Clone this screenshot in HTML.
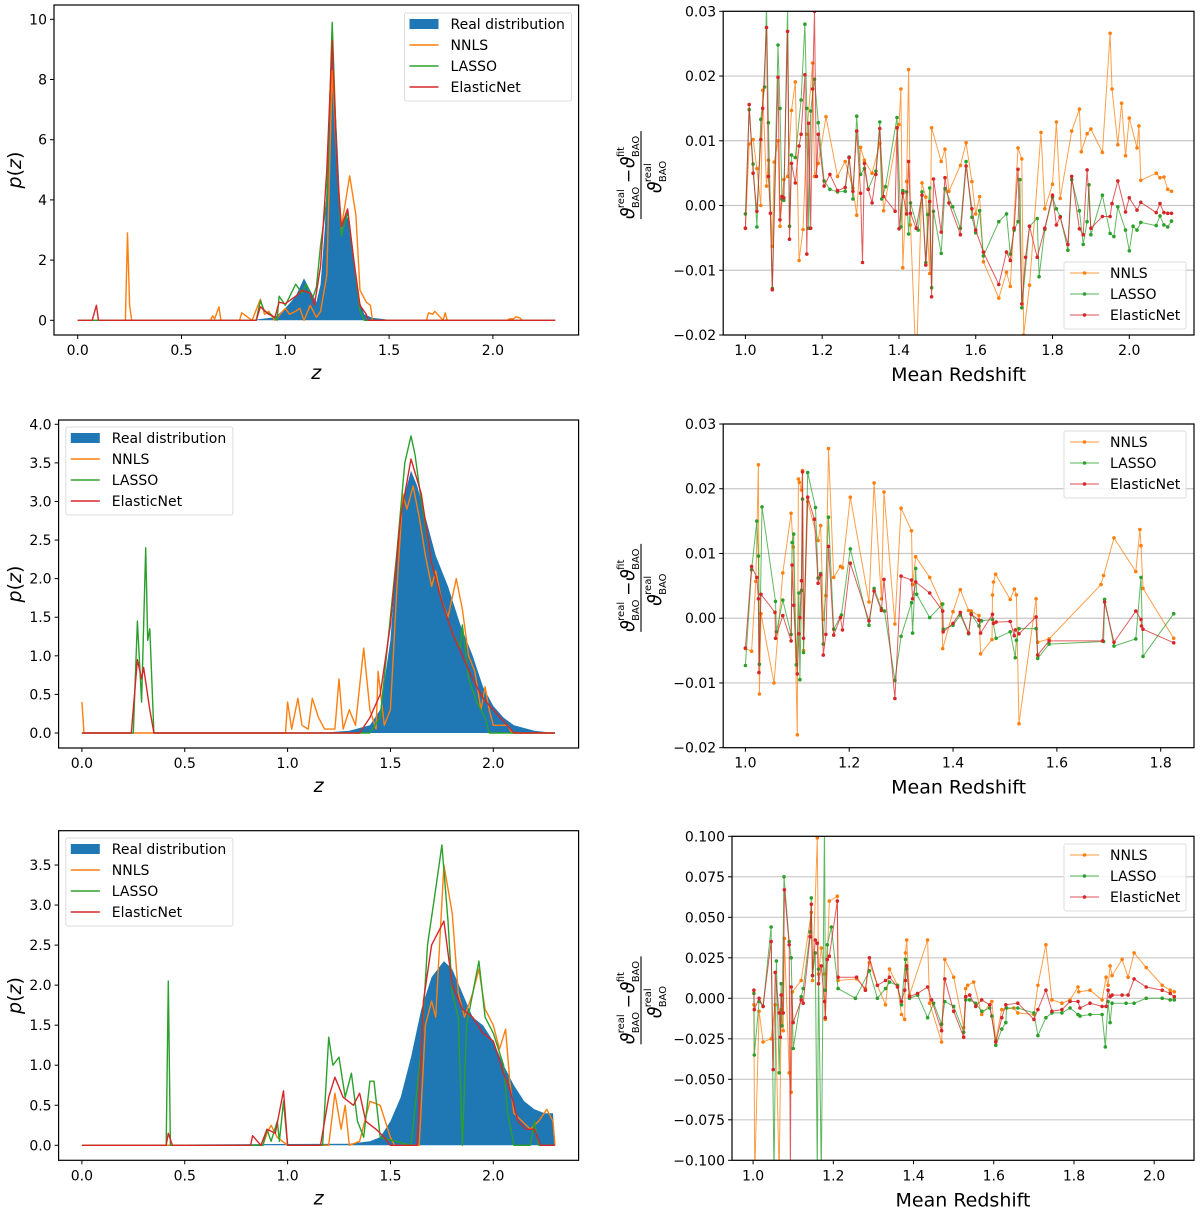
<!DOCTYPE html>
<html><head><meta charset="utf-8"><style>
html,body{margin:0;padding:0;background:#fff;}
svg{display:block;font-family:"DejaVu Sans","Liberation Sans",sans-serif;}
</style></head><body>
<svg id="fig" width="1200" height="1210" viewBox="0 0 1200 1210" xmlns="http://www.w3.org/2000/svg"></svg>
<script>
// ===== Data: p(z) panels =====
const realA=[[0,0],[0.8,0],[0.85,0.02],[0.95,0.1],[1.0,0.4],[1.05,0.8],[1.09,1.4],[1.12,1.0],[1.15,0.6],[1.17,1.2],[1.19,3],[1.21,6],[1.226,9.2],[1.25,6],[1.27,3],[1.29,3.5],[1.31,3.3],[1.33,2],[1.35,0.8],[1.38,0.2],[1.42,0.08],[1.5,0.02],[1.6,0],[2.3,0]];
const nnlsA=[[0,0],[0.23,0],[0.24,2.9],[0.25,0.5],[0.26,0],[0.64,0],[0.65,0.15],[0.66,0.05],[0.68,0.45],[0.69,0],[0.78,0],[0.79,0.25],[0.82,0.1],[0.84,0],[0.88,0.7],[0.9,0.2],[0.92,0.3],[0.95,0],[1.0,0.4],[1.02,0.2],[1.05,0.3],[1.07,0.4],[1.09,0],[1.12,0.5],[1.15,0.1],[1.17,0.3],[1.2,1.5],[1.226,8.3],[1.25,5],[1.27,3.1],[1.31,4.8],[1.34,3.5],[1.36,1],[1.39,0.6],[1.41,0.5],[1.42,0],[1.68,0],[1.69,0.25],[1.71,0.2],[1.72,0.3],[1.74,0.15],[1.76,0],[1.77,0.25],[1.78,0],[2.07,0],[2.08,0.05],[2.1,0.05],[2.11,0.12],[2.13,0.08],[2.14,0],[2.3,0]];
const lassoA=[[0,0],[0.86,0],[0.88,0.65],[0.9,0.3],[0.93,0.2],[0.96,0],[0.97,0.8],[1.0,0.5],[1.05,1.2],[1.08,0.9],[1.1,1.2],[1.13,0.7],[1.15,1.1],[1.17,2.5],[1.2,4],[1.226,9.9],[1.25,5],[1.27,2.8],[1.3,3.6],[1.33,2],[1.36,0.3],[1.38,0],[2.3,0]];
const enetA=[[0,0],[0.07,0],[0.09,0.5],[0.1,0],[0.86,0],[0.88,0.45],[0.92,0.2],[0.95,0.1],[0.97,0.6],[1.0,0.55],[1.05,0.8],[1.08,1.0],[1.12,0.9],[1.14,0.5],[1.17,1.8],[1.2,5],[1.226,9.3],[1.25,5],[1.27,3.1],[1.3,3.7],[1.33,2],[1.36,0.5],[1.39,0.2],[1.4,0],[2.3,0]];

const realC=[[0,0],[1.0,0],[1.2,0.01],[1.3,0.03],[1.4,0.1],[1.45,0.3],[1.5,1.2],[1.53,2.3],[1.56,3.0],[1.6,3.4],[1.63,3.2],[1.67,2.8],[1.72,2.3],[1.78,1.9],[1.84,1.4],[1.9,1.0],[1.95,0.6],[2.0,0.35],[2.05,0.2],[2.1,0.1],[2.2,0.03],[2.3,0]];
const nnlsC=[[0,0.4],[0.01,0],[0.99,0],[1.0,0.4],[1.02,0.05],[1.05,0.45],[1.07,0.1],[1.1,0.05],[1.12,0.45],[1.15,0.2],[1.18,0.05],[1.23,0.05],[1.25,0.7],[1.27,0.05],[1.3,0.3],[1.33,0.1],[1.37,1.1],[1.4,0.3],[1.43,0.05],[1.44,0.8],[1.47,0.1],[1.5,0.3],[1.53,1.8],[1.56,3.1],[1.58,2.9],[1.61,3.2],[1.64,2.8],[1.67,2.3],[1.7,1.9],[1.72,2.1],[1.75,1.7],[1.78,1.5],[1.82,2.0],[1.85,1.6],[1.88,1.0],[1.91,0.8],[1.94,0.3],[1.96,0.6],[1.98,0.3],[2.0,0.1],[2.03,0.1],[2.07,0.1],[2.09,0],[2.3,0]];
const lassoC=[[0,0],[0.25,0],[0.27,1.45],[0.29,0.4],[0.31,2.4],[0.32,1.2],[0.33,1.35],[0.35,0],[1.4,0],[1.45,0.2],[1.5,1.5],[1.53,2.3],[1.57,3.5],[1.6,3.85],[1.62,3.6],[1.65,3.0],[1.7,2.2],[1.75,1.7],[1.8,1.3],[1.84,1.1],[1.85,1.4],[1.88,0.7],[1.92,0.4],[1.96,0.2],[1.98,0],[2.3,0]];
const enetC=[[0,0],[0.24,0],[0.27,0.95],[0.29,0.7],[0.3,0.85],[0.33,0.3],[0.35,0],[1.35,0],[1.4,0.2],[1.45,0.5],[1.5,1.4],[1.55,2.8],[1.6,3.55],[1.65,3.1],[1.7,2.2],[1.75,1.7],[1.8,1.3],[1.85,1.0],[1.9,0.7],[1.95,0.45],[2.0,0.3],[2.05,0.15],[2.1,0],[2.3,0]];

const realE=[[0,0],[0.5,0.01],[1.3,0.02],[1.4,0.05],[1.45,0.1],[1.5,0.3],[1.55,0.6],[1.6,1.1],[1.65,1.7],[1.7,2.1],[1.76,2.3],[1.8,2.2],[1.85,1.9],[1.9,1.6],[1.95,1.5],[2.0,1.3],[2.05,1.0],[2.1,0.75],[2.15,0.55],[2.2,0.45],[2.25,0.4],[2.29,0.4],[2.3,0]];
const nnlsE=[[0,0],[0.88,0],[0.9,0.15],[0.92,0.25],[0.95,0.1],[1.0,0],[1.2,0],[1.23,0.65],[1.26,0.2],[1.28,0.5],[1.3,0],[1.35,0.05],[1.4,0.55],[1.45,0.5],[1.5,0.1],[1.52,0],[1.64,0],[1.67,1.5],[1.7,1.8],[1.72,1.6],[1.76,3.5],[1.8,2.9],[1.83,1.9],[1.86,1.6],[1.9,1.9],[1.93,2.2],[1.96,1.7],[2.0,1.5],[2.03,1.2],[2.06,1.45],[2.08,0.8],[2.1,0.4],[2.14,0.3],[2.18,0.2],[2.22,0.3],[2.26,0.45],[2.29,0.3],[2.3,0]];
const lassoE=[[0,0],[0.41,0],[0.42,2.05],[0.43,0],[0.88,0],[0.9,0.2],[0.92,0.05],[0.95,0.3],[0.96,0.05],[0.98,0.55],[1.0,0],[1.17,0],[1.2,1.35],[1.22,1.0],[1.25,1.1],[1.28,0.6],[1.31,0.9],[1.34,0.3],[1.37,0.1],[1.4,0.8],[1.42,0.8],[1.45,0.1],[1.6,0],[1.65,1.2],[1.68,2.5],[1.72,3.2],[1.75,3.75],[1.78,2.8],[1.8,1.9],[1.83,1.6],[1.85,0],[1.87,1.5],[1.93,2.3],[1.96,1.6],[2.0,1.4],[2.05,1.0],[2.07,0.4],[2.1,0],[2.18,0],[2.2,0.3],[2.22,0],[2.3,0]];
const enetE=[[0,0],[0.41,0],[0.42,0.15],[0.44,0],[0.82,0],[0.83,0.12],[0.87,0],[0.9,0.2],[0.94,0.15],[0.98,0.68],[1.0,0],[1.16,0],[1.2,0.6],[1.23,0.85],[1.27,0.6],[1.32,0.5],[1.35,0.65],[1.38,0.3],[1.43,0.2],[1.47,0.1],[1.5,0],[1.63,0],[1.66,1.8],[1.7,2.5],[1.76,2.8],[1.8,2.0],[1.85,1.7],[1.9,1.6],[1.95,1.4],[2.0,1.3],[2.05,0.9],[2.08,0.7],[2.12,0.3],[2.16,0.2],[2.2,0.2],[2.23,0],[2.3,0]];

// ===== Data: residual panels =====
const nnlsB=[[1.0,-0.0035],[1.01,0.0095],[1.02,0.0102],[1.03,0.0057],[1.04,0.0],[1.045,0.0178],[1.055,0.003],[1.06,0.007],[1.07,-0.0063],[1.075,0.0067],[1.085,0.01],[1.09,-0.0032],[1.1,0.004],[1.11,0.0045],[1.12,0.0147],[1.13,0.0191],[1.14,-0.0085],[1.15,-0.0037],[1.16,0.011],[1.175,0.022],[1.18,0.0045],[1.19,0.0065],[1.21,0.0137],[1.24,0.0045],[1.26,0.0068],[1.28,0.0027],[1.29,-0.0015],[1.3,0.009],[1.31,0.007],[1.33,0.005],[1.35,0.0096],[1.36,-0.0008],[1.4,0.0125],[1.405,0.018],[1.41,-0.0096],[1.42,0.0037],[1.425,0.021],[1.43,-0.003],[1.445,-0.025],[1.46,0.0035],[1.47,0.0013],[1.48,-0.0105],[1.485,0.012],[1.51,0.0068],[1.52,0.0087],[1.53,0.0022],[1.56,0.0062],[1.575,0.0097],[1.59,0.0037],[1.6,-0.0013],[1.61,0.0014],[1.62,-0.0087],[1.66,-0.0143],[1.68,-0.0103],[1.69,-0.0125],[1.71,0.0089],[1.72,0.0072],[1.725,-0.02],[1.74,-0.0123],[1.77,0.0113],[1.78,-0.0005],[1.8,0.0033],[1.81,0.0129],[1.82,0.0011],[1.85,0.0115],[1.87,0.0149],[1.875,0.0083],[1.89,0.0111],[1.9,0.0118],[1.93,0.0082],[1.95,0.0266],[1.955,0.018],[1.97,0.0094],[1.98,0.0158],[1.99,0.0077],[2.0,0.0135],[2.02,0.0089],[2.025,0.0123],[2.03,0.0039],[2.07,0.005],[2.08,0.0043],[2.09,0.0044],[2.1,0.0025],[2.11,0.0022]];
const lassoB=[[1.0,-0.0013],[1.01,0.0148],[1.02,0.0064],[1.03,-0.0033],[1.04,0.0133],[1.05,0.0183],[1.055,0.031],[1.06,0.0128],[1.07,-0.0128],[1.085,0.0248],[1.09,0.015],[1.095,0.001],[1.1,0.0008],[1.11,0.031],[1.115,-0.0032],[1.12,0.0078],[1.13,0.0074],[1.145,0.0163],[1.155,0.028],[1.16,0.015],[1.165,-0.0035],[1.17,0.0146],[1.18,0.0195],[1.19,0.0128],[1.205,0.0038],[1.22,0.0025],[1.24,0.0021],[1.26,0.0022],[1.27,0.0075],[1.28,0.001],[1.29,0.0138],[1.3,0.0048],[1.31,0.0057],[1.32,0.0025],[1.34,0.0053],[1.35,0.0129],[1.355,0.001],[1.365,0.0029],[1.395,0.0136],[1.405,-0.0033],[1.41,0.0023],[1.42,0.0021],[1.425,-0.0044],[1.43,0.0004],[1.45,-0.0038],[1.46,0.0021],[1.47,-0.0088],[1.475,-0.0014],[1.48,0.0027],[1.485,-0.0127],[1.49,-0.0009],[1.51,-0.0074],[1.52,0.0026],[1.54,-0.0002],[1.56,-0.0035],[1.575,0.0068],[1.59,-0.0018],[1.6,-0.0042],[1.61,-0.0008],[1.62,-0.0078],[1.66,-0.0025],[1.68,-0.0013],[1.69,-0.0075],[1.7,-0.0038],[1.71,-0.0025],[1.715,0.004],[1.72,-0.0158],[1.74,-0.0032],[1.76,-0.002],[1.765,-0.011],[1.78,-0.0037],[1.8,0.0013],[1.81,-0.0005],[1.82,-0.0017],[1.84,-0.0069],[1.85,0.004],[1.87,-0.0008],[1.88,-0.006],[1.89,-0.0025],[1.895,0.0032],[1.9,-0.0045],[1.93,0.0016],[1.95,-0.0043],[1.96,-0.0048],[1.97,-0.0002],[1.99,-0.0038],[2.0,-0.007],[2.01,-0.0032],[2.02,-0.0038],[2.03,-0.0026],[2.07,-0.0031],[2.08,-0.0016],[2.09,-0.003],[2.1,-0.0033],[2.11,-0.0024]];
const enetB=[[1.0,-0.0035],[1.01,0.0156],[1.02,0.005],[1.03,-0.0009],[1.04,0.0102],[1.045,0.015],[1.055,0.0275],[1.06,0.0045],[1.065,-0.0012],[1.07,-0.013],[1.085,0.0198],[1.09,-0.0022],[1.095,0.0014],[1.1,0.0012],[1.11,0.0269],[1.115,-0.0052],[1.12,0.0065],[1.13,0.0035],[1.14,0.0092],[1.145,0.011],[1.155,0.0202],[1.16,-0.0075],[1.165,0.0127],[1.17,-0.0035],[1.175,0.018],[1.18,0.03],[1.185,0.0045],[1.19,0.011],[1.205,0.003],[1.22,0.0048],[1.24,0.0023],[1.26,0.0028],[1.27,0.0074],[1.28,0.0022],[1.29,0.0115],[1.3,0.0019],[1.305,-0.0088],[1.31,0.0065],[1.32,0.0025],[1.33,0.0004],[1.34,0.0048],[1.35,0.0119],[1.36,0.0014],[1.39,-0.0009],[1.395,0.012],[1.4,-0.0036],[1.41,0.0019],[1.42,-0.0013],[1.425,0.0068],[1.43,-0.0012],[1.445,-0.0035],[1.46,0.0016],[1.47,-0.0092],[1.48,0.0006],[1.485,-0.0141],[1.49,0.0041],[1.51,-0.0041],[1.52,0.0043],[1.53,0.0004],[1.56,-0.0045],[1.575,0.0061],[1.59,-0.0005],[1.6,-0.0038],[1.62,-0.0072],[1.66,-0.0122],[1.68,-0.0072],[1.69,-0.0085],[1.7,-0.0035],[1.71,0.0056],[1.72,-0.0152],[1.73,-0.008],[1.74,-0.0032],[1.76,-0.008],[1.78,-0.0035],[1.8,0.0016],[1.81,-0.003],[1.82,-0.0018],[1.84,-0.006],[1.85,0.0045],[1.87,-0.0036],[1.88,-0.0045],[1.89,0.0055],[1.9,-0.0035],[1.93,-0.0017],[1.95,-0.0017],[1.955,0.0003],[1.97,0.0038],[1.99,-0.001],[2.0,0.0012],[2.02,-0.0007],[2.03,0.0005],[2.07,-0.0011],[2.08,0.0003],[2.09,-0.0011],[2.1,-0.0012],[2.11,-0.0012]];

const nnlsD=[[1.0,-0.0047],[1.012,-0.0051],[1.02,0.0057],[1.025,0.0237],[1.027,-0.0117],[1.03,0.0007],[1.055,-0.01],[1.072,0.007],[1.088,0.0162],[1.092,0.011],[1.1,-0.018],[1.102,0.0215],[1.104,0.021],[1.108,0.0198],[1.11,0.0228],[1.112,-0.005],[1.12,0.018],[1.14,0.012],[1.145,0.0143],[1.15,-0.0002],[1.155,0.0035],[1.16,0.0262],[1.17,0.0063],[1.183,0.008],[1.187,0.0078],[1.202,0.0187],[1.238,0.0025],[1.248,0.0209],[1.262,0.003],[1.267,0.0195],[1.288,-0.0009],[1.3,0.017],[1.32,0.0135],[1.322,0.0052],[1.328,0.0095],[1.355,0.0063],[1.378,0.0022],[1.38,-0.0047],[1.4,0.001],[1.414,0.0044],[1.43,0.0012],[1.435,0.0011],[1.45,0.0004],[1.453,-0.0055],[1.475,-0.0033],[1.476,0.0036],[1.478,0.0056],[1.482,0.0068],[1.51,0.0029],[1.518,0.0045],[1.522,0.0036],[1.527,-0.0163],[1.56,0.003],[1.563,-0.0037],[1.585,-0.0032],[1.685,0.0052],[1.69,0.0066],[1.71,0.0124],[1.752,0.0072],[1.76,0.0137],[1.762,0.0112],[1.766,0.0046],[1.825,-0.0031]];
const lassoD=[[1.0,-0.0073],[1.012,0.0075],[1.022,0.015],[1.025,0.0096],[1.027,-0.0071],[1.032,0.0172],[1.058,0.0026],[1.06,-0.0021],[1.072,0.0028],[1.088,-0.0025],[1.09,0.0117],[1.093,0.013],[1.098,-0.0072],[1.103,0.0039],[1.105,-0.0095],[1.108,0.0043],[1.11,0.0184],[1.112,-0.0053],[1.12,0.0225],[1.135,0.0171],[1.14,0.0062],[1.145,0.0069],[1.15,-0.004],[1.16,0.0156],[1.17,-0.0017],[1.185,0.0005],[1.202,0.0107],[1.238,-0.0011],[1.248,0.0046],[1.262,0.0015],[1.268,0.0011],[1.288,-0.0096],[1.3,-0.0028],[1.32,0.0024],[1.322,-0.0023],[1.328,0.0077],[1.33,0.0037],[1.355,0.0001],[1.38,0.0022],[1.381,-0.0017],[1.4,-0.0011],[1.414,0.0005],[1.43,-0.0024],[1.435,0.0007],[1.45,-0.0012],[1.455,-0.0004],[1.476,-0.0002],[1.483,-0.0031],[1.51,-0.0021],[1.52,-0.0061],[1.522,-0.0034],[1.527,-0.0016],[1.56,-0.0016],[1.563,-0.0062],[1.585,-0.004],[1.69,-0.0036],[1.692,0.0029],[1.71,-0.0043],[1.752,-0.0032],[1.762,0.0063],[1.766,-0.0059],[1.825,0.0007]];
const enetD=[[1.0,-0.0046],[1.012,0.008],[1.022,0.0063],[1.025,0.003],[1.026,-0.0084],[1.03,0.0037],[1.057,0.0009],[1.058,-0.0031],[1.072,0.0004],[1.088,-0.0035],[1.09,0.0082],[1.093,0.002],[1.1,-0.0086],[1.103,-0.0024],[1.105,0.0001],[1.108,0.0058],[1.11,0.0226],[1.112,-0.0031],[1.12,0.0187],[1.133,0.0153],[1.14,0.0054],[1.145,0.0067],[1.15,-0.0057],[1.155,-0.0025],[1.16,0.0111],[1.17,-0.0026],[1.183,0.0001],[1.187,-0.0018],[1.202,0.0085],[1.238,-0.0004],[1.248,0.0042],[1.262,0.0012],[1.267,0.006],[1.288,-0.0124],[1.3,0.0065],[1.32,0.0059],[1.322,0.003],[1.328,0.0056],[1.355,0.0039],[1.38,0.0011],[1.381,-0.0021],[1.4,-0.0008],[1.414,0.0009],[1.43,-0.0023],[1.435,0.0006],[1.45,-0.0003],[1.453,-0.0023],[1.476,0.0006],[1.478,-0.0008],[1.483,-0.0006],[1.51,-0.0005],[1.518,-0.0027],[1.52,-0.0018],[1.527,-0.0024],[1.56,0.0002],[1.563,-0.0057],[1.585,-0.0035],[1.688,-0.0035],[1.692,0.0025],[1.71,-0.0037],[1.752,0.0011],[1.762,-0.0002],[1.763,-0.0012],[1.766,-0.0017],[1.825,-0.0038]];

const nnlsF=[[1.002,-0.004],[1.004,-0.11],[1.015,-0.008],[1.025,-0.027],[1.045,-0.025],[1.055,-0.004],[1.065,-0.11],[1.07,-0.007],[1.075,-0.02],[1.078,0.037],[1.09,-0.046],[1.095,-0.058],[1.098,0.004],[1.12,0.011],[1.145,0.053],[1.148,0.011],[1.16,0.099],[1.163,0.015],[1.17,0.031],[1.178,0.015],[1.18,-0.013],[1.19,0.06],[1.21,0.063],[1.212,0.011],[1.258,0.012],[1.28,0.006],[1.29,0.022],[1.31,0.008],[1.33,-0.004],[1.34,0.018],[1.36,0.008],[1.37,-0.01],[1.378,-0.013],[1.38,0.028],[1.383,0.036],[1.39,0.002],[1.435,0.036],[1.44,-0.003],[1.47,-0.027],[1.478,0.024],[1.5,0.013],[1.525,-0.018],[1.53,0.006],[1.535,0.008],[1.55,0.01],[1.57,-0.01],[1.595,-0.002],[1.605,-0.026],[1.62,-0.007],[1.65,-0.006],[1.66,-0.009],[1.7,-0.01],[1.71,0.008],[1.73,0.033],[1.745,-0.001],[1.77,-0.003],[1.79,-0.001],[1.81,0.007],[1.812,0.004],[1.84,0.005],[1.87,-0.001],[1.88,0.013],[1.885,0.008],[1.89,0.02],[1.895,0.014],[1.92,0.024],[1.935,0.013],[1.95,0.028],[1.98,0.019],[2.02,0.008],[2.04,0.005],[2.05,0.004]];
const lassoF=[[1.002,0.003],[1.003,-0.035],[1.015,-0.002],[1.025,-0.005],[1.045,0.044],[1.052,-0.11],[1.058,0.023],[1.065,-0.046],[1.07,0.009],[1.072,-0.017],[1.077,0.075],[1.09,0.035],[1.095,0.025],[1.1,-0.031],[1.12,0.001],[1.125,0.006],[1.142,0.041],[1.145,0.062],[1.148,0.014],[1.155,0.028],[1.16,-0.11],[1.163,0.018],[1.17,-0.11],[1.178,0.11],[1.18,0.005],[1.185,0.033],[1.195,0.044],[1.212,0.006],[1.255,0.0],[1.29,0.017],[1.31,0.0],[1.33,0.006],[1.34,0.01],[1.36,0.008],[1.37,-0.004],[1.38,0.024],[1.383,0.018],[1.39,0.0],[1.41,0.002],[1.435,-0.012],[1.45,-0.003],[1.47,-0.016],[1.478,-0.002],[1.5,-0.005],[1.525,-0.021],[1.53,-0.001],[1.54,-0.001],[1.555,-0.003],[1.57,-0.008],[1.59,-0.006],[1.595,-0.011],[1.605,-0.029],[1.62,-0.019],[1.63,-0.015],[1.632,-0.006],[1.66,-0.006],[1.7,-0.009],[1.71,-0.023],[1.73,-0.012],[1.745,-0.009],[1.77,-0.009],[1.79,-0.006],[1.81,-0.01],[1.815,-0.011],[1.84,-0.01],[1.87,-0.01],[1.878,-0.03],[1.885,-0.002],[1.89,-0.015],[1.895,-0.003],[1.93,-0.003],[1.95,-0.003],[1.98,0.0],[2.02,0.0],[2.04,-0.001],[2.05,-0.001]];
const enetF=[[1.002,0.005],[1.003,-0.007],[1.015,0.0],[1.025,-0.005],[1.045,0.035],[1.05,-0.044],[1.055,0.016],[1.065,-0.009],[1.068,-0.024],[1.07,0.002],[1.075,-0.009],[1.078,0.067],[1.09,0.033],[1.093,-0.11],[1.095,0.007],[1.1,-0.015],[1.12,-0.001],[1.125,-0.003],[1.142,0.038],[1.145,0.058],[1.148,0.014],[1.155,0.036],[1.16,0.034],[1.163,0.009],[1.17,0.02],[1.178,-0.002],[1.18,-0.012],[1.185,0.024],[1.19,0.026],[1.21,0.06],[1.212,0.013],[1.258,0.013],[1.28,0.005],[1.29,0.025],[1.31,0.008],[1.33,0.011],[1.34,0.013],[1.36,0.007],[1.37,-0.002],[1.378,0.005],[1.38,0.011],[1.383,0.02],[1.39,0.001],[1.41,0.003],[1.435,0.007],[1.445,-0.001],[1.47,-0.02],[1.478,0.012],[1.5,-0.008],[1.525,-0.024],[1.53,0.001],[1.54,0.002],[1.555,-0.005],[1.57,-0.001],[1.59,-0.004],[1.605,-0.027],[1.62,-0.012],[1.63,-0.004],[1.66,-0.003],[1.7,-0.013],[1.71,-0.007],[1.73,0.005],[1.745,-0.008],[1.77,-0.007],[1.79,-0.002],[1.81,-0.002],[1.815,-0.006],[1.84,-0.003],[1.87,-0.005],[1.88,-0.005],[1.885,0.005],[1.89,0.001],[1.895,0.002],[1.92,0.002],[1.935,0.002],[1.95,0.012],[1.98,0.007],[2.02,0.005],[2.04,0.003],[2.05,0.001]];

// tick arrays
const pdfXTicks=[0,0.5,1.0,1.5,2.0];
const pdfXLabels=["0.0","0.5","1.0","1.5","2.0"];
const yTicksA=[0,2,4,6,8,10];
const yLabelsA=["0","2","4","6","8","10"];
const yTicksC=[0,0.5,1,1.5,2,2.5,3,3.5,4];
const yLabelsC=["0.0","0.5","1.0","1.5","2.0","2.5","3.0","3.5","4.0"];
const yTicksE=[0,0.5,1,1.5,2,2.5,3,3.5];
const yLabelsE=["0.0","0.5","1.0","1.5","2.0","2.5","3.0","3.5"];
const resXTicks=[1.0,1.2,1.4,1.6,1.8,2.0];
const resXLabels=["1.0","1.2","1.4","1.6","1.8","2.0"];
const resXTicksD=[1.0,1.2,1.4,1.6,1.8];
const resXLabelsD=["1.0","1.2","1.4","1.6","1.8"];
const resYTicks=[-0.02,-0.01,0,0.01,0.02,0.03];
const resYLabels=["\u22120.02","\u22120.01","0.00","0.01","0.02","0.03"];
const resYTicksF=[-0.1,-0.075,-0.05,-0.025,0,0.025,0.05,0.075,0.1];
const resYLabelsF=["\u22120.100","\u22120.075","\u22120.050","\u22120.025","0.000","0.025","0.050","0.075","0.100"];

const NS="http://www.w3.org/2000/svg";
const fig=document.getElementById('fig');
const C={blue:'#1f77b4',orange:'#ff7f0e',green:'#2ca02c',red:'#d62728'};
function mk(tag,attrs,parent){const e=document.createElementNS(NS,tag);for(const k in attrs)e.setAttribute(k,attrs[k]);(parent||fig).appendChild(e);return e;}
function lin(d0,d1,p0,p1){return v=>p0+(v-d0)*(p1-p0)/(d1-d0);}

function axes(id,box,sx,sy,xt,xl,yt,yl,grid){
  const g=mk('g',{});
  
  
  const cp=mk('clipPath',{id:'clip-'+id},g);
  mk('rect',{x:box.x0,y:box.y0,width:box.x1-box.x0,height:box.y1-box.y0},cp);
  if(grid){yt.forEach(v=>{const y=sy(v);const l=mk('line',{x1:box.x0,x2:box.x1,y1:y,y2:y,stroke:'#c8c8c8','stroke-width':1.2},g);});}
  const xa=mk('g',{},g);
  
  
  xt.forEach((v,i)=>{const x=sx(v);mk('line',{x1:x,x2:x,y1:box.y1,y2:box.y1+4,stroke:'#000','stroke-width':1},xa);
    const t=mk('text',{x:x,y:box.y1+20,'text-anchor':'middle','font-size':14,fill:'#000'},xa);t.textContent=xl[i];});
  const ya=mk('g',{},g);
  
  
  yt.forEach((v,i)=>{const y=sy(v);mk('line',{x1:box.x0-4,x2:box.x0,y1:y,y2:y,stroke:'#000','stroke-width':1},ya);
    const t=mk('text',{x:box.x0-7,y:y+5,'text-anchor':'end','font-size':14,fill:'#000'},ya);t.textContent=yl[i];});
  return g;
}
function frame(id,box){const r=mk('rect',{x:box.x0,y:box.y0,width:box.x1-box.x0,height:box.y1-box.y0,fill:'none',stroke:'#000','stroke-width':1.2});
  
  }
function pathOf(pts,sx,sy){return pts.map((p,i)=>(i?'L':'M')+sx(p[0]).toFixed(1)+','+sy(p[1]).toFixed(1)).join('');}

function pdfPanel(id,box,sx,sy,real,series,yt,yl,legend){
  axes(id,box,sx,sy,pdfXTicks,pdfXLabels,yt,yl,false);
  const g=mk('g',{'clip-path':'url(#clip-'+id+')'});
  
  
  const f=mk('path',{d:pathOf(real,sx,sy)+'L'+sx(real[real.length-1][0])+','+sy(0)+'L'+sx(real[0][0])+','+sy(0)+'Z',fill:C.blue,stroke:'none'},g);
  
  
  series.forEach(s=>{const p=mk('path',{d:pathOf(s.d,sx,sy),fill:'none',stroke:s.c,'stroke-width':1.4,'stroke-linejoin':'round'},g);
    
    });
  frame(id,box);
  // legend
  const lg=mk('g',{});
  
  
  mk('rect',{x:legend.x,y:legend.y,width:legend.w,height:88,fill:'#fff','fill-opacity':0.8,stroke:'#ddd','stroke-width':1,rx:2},lg);
  const items=[{n:'Real distribution',c:C.blue,patch:true}].concat(series.map(s=>({n:s.label,c:s.c})));
  items.forEach((it,i)=>{const cy=legend.y+11+i*21;
    if(it.patch) mk('rect',{x:legend.x+5,y:cy-5,width:29,height:10,fill:it.c},lg);
    else mk('line',{x1:legend.x+5,x2:legend.x+34,y1:cy,y2:cy,stroke:it.c,'stroke-width':1.5},lg);
    const t=mk('text',{x:legend.x+46,y:cy+5,'font-size':14,fill:'#000'},lg);t.textContent=it.n;
    
    });
  // labels
  const xl=mk('text',{x:(box.x0+box.x1)/2,y:box.y1+44,'text-anchor':'middle','font-size':19,'font-style':'italic'});xl.textContent='z';
  
  
  const cy=(box.y0+box.y1)/2;
  const yl2=mk('text',{x:0,y:0,transform:`translate(21,${cy}) rotate(-90)`,'text-anchor':'middle','font-size':19});
  
  
  const a=mk('tspan',{'font-style':'italic'},yl2);a.textContent='p';
  const b=mk('tspan',{},yl2);b.textContent='(';
  const c=mk('tspan',{'font-style':'italic'},yl2);c.textContent='z';
  const d=mk('tspan',{},yl2);d.textContent=')';
}

function resLabel(cx,cy){
  const g=mk('g',{transform:`translate(${cx},${cy}) rotate(-90)`,'font-size':17});
  
  
  function t(x,y,s,fs,it){const e=mk('text',{x:x,y:y,'font-size':fs,'font-style':it?'italic':'normal'},g);e.textContent=s;}
  t(-46,-6,'\u03D1',19,true);t(-35,-16,'real',10);t(-35,-1,'BAO',10);
  t(-10,-6,'\u2212',17);t(5,-6,'\u03D1',19,true);t(16,-16,'fit',10);t(16,-1,'BAO',10);
  mk('line',{x1:-46,x2:42,y1:1,y2:1,stroke:'#000','stroke-width':1.1},g);
  t(-20,21,'\u03D1',19,true);t(-9,11,'real',10);t(-9,26,'BAO',10);
}

function resPanel(id,box,sx,sy,xt,xl,yt,yl,series,legend){
  axes(id,box,sx,sy,xt,xl,yt,yl,true);
  const g=mk('g',{'clip-path':'url(#clip-'+id+')'});
  
  
  series.forEach(s=>{const sg=mk('g',{},g);
    
    
    mk('path',{d:pathOf(s.d,sx,sy),fill:'none',stroke:s.c,'stroke-width':1,'stroke-opacity':0.75},sg);
    s.d.forEach(p=>{mk('circle',{cx:sx(p[0]).toFixed(1),cy:sy(p[1]).toFixed(1),r:1.8,fill:s.c},sg);});
  });
  frame(id,box);
  const lg=mk('g',{});
  
  
  mk('rect',{x:legend.x,y:legend.y,width:122,height:67,fill:'#fff','fill-opacity':0.8,stroke:'#ddd','stroke-width':1,rx:2},lg);
  series.forEach((s,i)=>{const cy=legend.y+11+i*21;
    mk('line',{x1:legend.x+6,x2:legend.x+35,y1:cy,y2:cy,stroke:s.c,'stroke-width':1,'stroke-opacity':0.8},lg);
    mk('circle',{cx:legend.x+20.5,cy:cy,r:1.8,fill:s.c},lg);
    const t=mk('text',{x:legend.x+46,y:cy+5,'font-size':14},lg);t.textContent=s.label;
    
    });
  const xl2=mk('text',{x:(box.x0+box.x1)/2,y:box.y1+46,'text-anchor':'middle','font-size':19});xl2.textContent='Mean Redshift';
  
  
  resLabel(640,(box.y0+box.y1)/2);
}

const S=(d1,d2,d3)=>[{n:'nnls',label:'NNLS',c:C.orange,d:d1},{n:'lasso',label:'LASSO',c:C.green,d:d2},{n:'elasticnet',label:'ElasticNet',c:C.red,d:d3}];

// Panel A
pdfPanel('pdf-top',{x0:54,x1:578.6,y0:5,y1:335},lin(0,2,77.7,492.9),lin(0,10,320.3,19.3),realA,S(nnlsA,lassoA,enetA),yTicksA,yLabelsA,{x:404.5,y:13,w:167});
// Panel C
pdfPanel('pdf-middle',{x0:58.6,x1:578.6,y0:420,y1:748},lin(0,2,81.9,493.3),lin(0,4,733,424.3),realC,S(nnlsC,lassoC,enetC),yTicksC,yLabelsC,{x:65.8,y:427,w:167});
// Panel E
pdfPanel('pdf-bottom',{x0:58.6,x1:578.6,y0:830.7,y1:1160.3},lin(0,2,81.9,493.3),lin(0,3.5,1145.3,865),realE,S(nnlsE,lassoE,enetE),yTicksE,yLabelsE,{x:65.8,y:838,w:167});
// Panel B
resPanel('res-top',{x0:723.2,x1:1194,y0:11.3,y1:335},lin(1,2,745.4,1129.3),lin(-0.02,0.03,335,11.3),resXTicks,resXLabels,resYTicks,resYLabels,S(nnlsB,lassoB,enetB),{x:1064,y:262});
// Panel D
resPanel('res-middle',{x0:723.2,x1:1194,y0:424,y1:747.7},lin(1,1.8,745.4,1160.7),lin(-0.02,0.03,747.7,424),resXTicksD,resXLabelsD,resYTicks,resYLabels,S(nnlsD,lassoD,enetD),{x:1064,y:431});
// Panel F
resPanel('res-bottom',{x0:732,x1:1194,y0:836.3,y1:1160.3},lin(1,2,753.1,1154.2),lin(-0.1,0.1,1160.3,836.3),resXTicks,resXLabels,resYTicksF,resYLabelsF,S(nnlsF,lassoF,enetF),{x:1064,y:844});
</script>
</body></html>
